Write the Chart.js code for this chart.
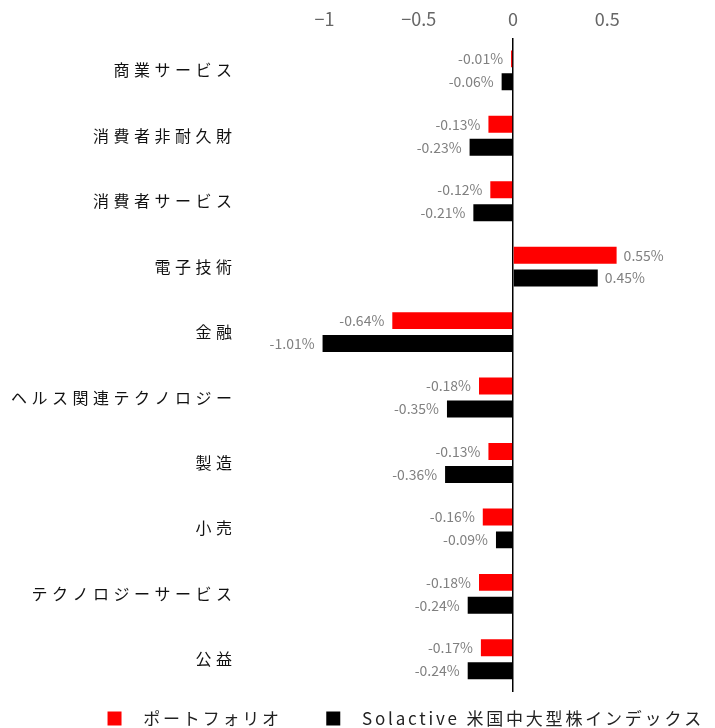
<!DOCTYPE html>
<html>
<head>
<meta charset="utf-8">
<script src="https://cdn.jsdelivr.net/npm/chart.js@4/dist/chart.umd.min.js"></script>
<style>
  html, body { margin: 0; padding: 0; background: #fff; }
  #wrap { width: 715px; height: 728px; }
</style>
</head>
<body>
<div id="wrap"><canvas id="c"></canvas></div>
<script>
  const categories = [
    "商業サービス", "消費者非耐久財", "消費者サービス", "電子技術", "金融",
    "ヘルス関連テクノロジー", "製造", "小売", "テクノロジーサービス", "公益"
  ];
  const portfolio = [-0.01, -0.13, -0.12, 0.55, -0.64, -0.18, -0.13, -0.16, -0.18, -0.17];
  const benchmark = [-0.06, -0.23, -0.21, 0.45, -1.01, -0.35, -0.36, -0.09, -0.24, -0.24];
  const xTicks = [-1, -0.5, 0, 0.5];
  const seriesNames = ["ポートフォリオ", "Solactive 米国中大型株インデックス"];

  const FONT = "'Noto Sans CJK JP', 'Noto Sans', sans-serif";

  // wrap a method so it runs with a given canvas letter spacing
  function withSpacing(obj, name, spacing) {
    const orig = obj[name];
    obj[name] = function () {
      const ctx = this.ctx;
      ctx.save();
      ctx.letterSpacing = spacing;
      const r = orig.apply(this, arguments);
      ctx.restore();
      return r;
    };
  }

  const spacing = {
    id: "spacing",
    beforeLayout(chart) {
      const lg = chart.legend;
      if (lg && !lg._spaced) {
        withSpacing(lg, "fit", "2.8px");
        withSpacing(lg, "draw", "2.8px");
        lg._spaced = true;
      }
    },
    afterUpdate(chart) {
      const y = chart.scales.y;
      if (y && !y._spaced) {
        withSpacing(y, "drawLabels", "4.5px");
        y._spaced = true;
      }
    }
  };

  // value labels next to each bar end
  const valueLabels = {
    id: "valueLabels",
    afterDatasetsDraw(chart) {
      const ctx = chart.ctx;
      ctx.save();
      ctx.letterSpacing = "0px";
      ctx.font = "14px " + FONT;
      ctx.fillStyle = "#808080";
      ctx.textBaseline = "middle";
      chart.data.datasets.forEach((ds, i) => {
        chart.getDatasetMeta(i).data.forEach((bar, j) => {
          const v = ds.data[j];
          const txt = v.toFixed(2) + "%";
          if (v < 0) {
            ctx.textAlign = "right";
            ctx.fillText(txt, bar.x - 8, bar.y);
          } else {
            ctx.textAlign = "left";
            ctx.fillText(txt, bar.x + 7, bar.y);
          }
        });
      });
      ctx.restore();
    }
  };

  new Chart(document.getElementById("c"), {
    type: "bar",
    data: {
      labels: categories,
      datasets: [
        {
          label: "  " + seriesNames[0] + "    ",
          data: portfolio,
          backgroundColor: "#ff0000",
          borderWidth: 0,
          categoryPercentage: 0.70,
          barPercentage: 0.74,
        },
        {
          label: "  " + seriesNames[1],
          data: benchmark,
          backgroundColor: "#000000",
          borderWidth: 0,
          categoryPercentage: 0.70,
          barPercentage: 0.74,
        },
      ],
    },
    options: {
      indexAxis: "y",
      responsive: true,
      maintainAspectRatio: false,
      animation: false,
      layout: { padding: { left: 0, right: -7, top: 0, bottom: -9 } },
      plugins: {
        tooltip: { enabled: false },
        legend: {
          position: "bottom",
          align: "end",
          labels: {
            boxWidth: 14,
            boxHeight: 14,
            padding: 18,
            color: "#222",
            font: { family: FONT, size: 17 },
          },
        },
      },
      scales: {
        x: {
          position: "top",
          min: -1.448,
          max: 1.072,
          afterBuildTicks: (axis) => {
            axis.ticks = xTicks.map((v) => ({ value: v }));
          },
          ticks: {
            color: "#666",
            font: { family: FONT, size: 18 },
            padding: 8,
            callback: (v) => String(v).replace("-", "\u2212"),
          },
          grid: {
            drawTicks: false,
            color: (c) => (c.tick && c.tick.value === 0 ? "#000" : "transparent"),
            lineWidth: 1.5,
          },
          border: { display: false },
        },
        y: {
          afterFit: (axis) => { axis.width = 240; },
          ticks: {
            color: "#111",
            font: { family: FONT, size: 16 },
            padding: -4.5,
          },
          grid: { display: false },
          border: { display: false },
        },
      },
    },
    plugins: [spacing, valueLabels],
  });
</script>
</body>
</html>
